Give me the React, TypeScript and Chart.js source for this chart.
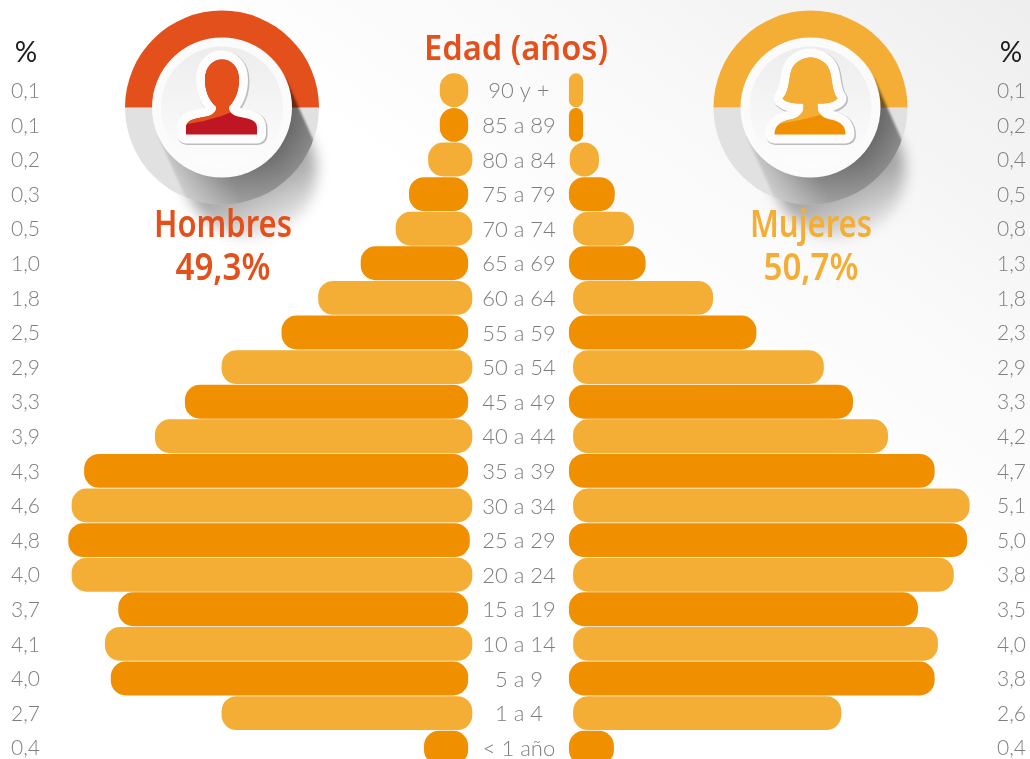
import React, { useEffect, useRef } from "react";
import { Chart, registerables } from "chart.js";

Chart.register(...registerables);

const ageGroups = ["90 y +","85 a 89","80 a 84","75 a 79","70 a 74","65 a 69","60 a 64","55 a 59","50 a 54","45 a 49","40 a 44","35 a 39","30 a 34","25 a 29","20 a 24","15 a 19","10 a 14","5 a 9","1 a 4","< 1 año"];
const menPercent = ["0,1","0,1","0,2","0,3","0,5","1,0","1,8","2,5","2,9","3,3","3,9","4,3","4,6","4,8","4,0","3,7","4,1","4,0","2,7","0,4"];
const womenPercent = ["0,1","0,2","0,4","0,5","0,8","1,3","1,8","2,3","2,9","3,3","4,2","4,7","5,1","5,0","3,8","3,5","4,0","3,8","2,6","0,4"];
// Bar ends as drawn in the picture (the drawn lengths are not proportional to the printed labels).
const menBarOuter = [0.95,0.95,1.09,1.32,1.48,1.9,2.41,2.85,3.57,4.01,4.37,5.22,5.37,5.41,5.37,4.81,4.97,4.9,3.57,1.14];
const menBarInner = [0.61,0.61,0.56,0.61,0.56,0.61,0.56,0.61,0.56,0.61,0.56,0.61,0.56,0.59,0.56,0.61,0.56,0.61,0.56,0.61];
const womenBarOuter = [0.77,0.77,0.96,1.15,1.38,1.52,2.33,2.85,3.66,4.01,4.43,4.99,5.41,5.38,5.22,4.79,5.03,4.99,3.87,1.14];
const womenBarInner = [0.6,0.6,0.61,0.6,0.65,0.6,0.65,0.6,0.65,0.6,0.65,0.6,0.65,0.6,0.65,0.6,0.65,0.6,0.65,0.6];

const LIGHT = "#F4AE35";
const DARK = "#F08F00";
const RED_ORANGE = "#E4501B";
const GREY_TEXT = "#7d7e82";
const rowColors = ageGroups.map((_, i) => (i % 2 === 0 ? LIGHT : DARK));

type Ctx = CanvasRenderingContext2D;

function manPath(c: Ctx) {
  c.beginPath();
  c.moveTo(-36, 27);
  c.lineTo(-36, 20);
  c.bezierCurveTo(-36, 12, -26, 11, -15, 9);
  c.bezierCurveTo(-8, 7, -5, 3, -6, -1);
  c.bezierCurveTo(-14, -8, -17, -18, -17, -28);
  c.bezierCurveTo(-17, -41, -9, -48, 0, -48);
  c.bezierCurveTo(9, -48, 17, -41, 17, -28);
  c.bezierCurveTo(17, -18, 14, -8, 7, -1);
  c.bezierCurveTo(6, 3, 9, 7, 16, 9);
  c.bezierCurveTo(26, 11, 35, 12, 35, 20);
  c.lineTo(35, 27);
  c.closePath();
}

function womanPath(c: Ctx) {
  c.beginPath();
  c.moveTo(-36, 27);
  c.bezierCurveTo(-36, 18, -30, 14, -20, 12);
  c.bezierCurveTo(-12, 10, -7, 6, -7, 0);
  c.lineTo(-7, -4);
  c.bezierCurveTo(-14, -4, -23, -4, -28, -9);
  c.bezierCurveTo(-22, -15, -22, -25, -20, -34);
  c.bezierCurveTo(-18, -45, -8, -50, 0, -50);
  c.bezierCurveTo(8, -50, 18, -45, 20, -34);
  c.bezierCurveTo(22, -25, 22, -15, 27, -9);
  c.bezierCurveTo(22, -4, 14, -4, 7, -4);
  c.lineTo(7, 0);
  c.bezierCurveTo(7, 6, 12, 10, 20, 12);
  c.bezierCurveTo(30, 14, 35, 18, 35, 27);
  c.closePath();
}

function bandPath(c: Ctx, dx: number, dy: number, L: number, r: number) {
  c.beginPath();
  c.moveTo(dy * r, -dx * r);
  c.lineTo(dy * r + dx * L, -dx * r + dy * L);
  c.arc(dx * L, dy * L, r, Math.atan2(-dx, dy), Math.atan2(dx, -dy), false);
  c.lineTo(-dy * r, dx * r);
  c.closePath();
}

function ringShadow(dx: number, dy: number) {
  const off = document.createElement("canvas");
  off.width = 220;
  off.height = 220;
  const o = off.getContext("2d") as Ctx;
  o.translate(110, 110);
  const across = o.createLinearGradient(-dy * 70, dx * 70, dy * 70, -dx * 70);
  across.addColorStop(0, "rgba(0,0,0,0.12)");
  across.addColorStop(0.35, "rgba(0,0,0,0.42)");
  across.addColorStop(0.7, "rgba(0,0,0,0.52)");
  across.addColorStop(1, "rgba(0,0,0,0.55)");
  o.fillStyle = across;
  o.filter = "blur(1px)";
  bandPath(o, dx, dy, 130, 70);
  o.fill();
  o.filter = "none";
  o.globalCompositeOperation = "destination-in";
  const fade = o.createRadialGradient(0, 0, 68, 0, 0, 100);
  fade.addColorStop(0, "rgba(0,0,0,1)");
  fade.addColorStop(1, "rgba(0,0,0,0.68)");
  o.fillStyle = fade;
  o.fillRect(-110, -110, 220, 220);
  return off;
}

function drawBadge(c: Ctx, cx: number, cy: number, top: string, headFill: string, bodyFill: string, path: (c: Ctx) => void, glossEnd: number) {
  const dx = 0.41, dy = 0.912;
  c.save();
  c.translate(cx, cy);

  // soft part of the cast shadow that leaves the ring
  c.save();
  const soft = c.createLinearGradient(0, 0, dx * 150, dy * 150);
  soft.addColorStop(0.55, "rgba(0,0,0,0.34)");
  soft.addColorStop(1, "rgba(0,0,0,0)");
  c.filter = "blur(7px)";
  c.fillStyle = soft;
  bandPath(c, dx, dy, 70, 66);
  c.fill();
  c.restore();

  // grey lower half + coloured upper half
  c.beginPath();
  c.arc(0, 0, 97, 0, Math.PI);
  c.closePath();
  c.fillStyle = "#e1e1e1";
  c.fill();
  c.beginPath();
  c.arc(0, 0, 97, Math.PI, 0);
  c.closePath();
  c.fillStyle = top;
  c.fill();

  // cast shadow on the ring
  c.save();
  c.beginPath();
  c.arc(0, 0, 97, 0, Math.PI * 2);
  c.clip();
  c.drawImage(ringShadow(dx, dy), -110, -110);
  c.restore();

  // disc
  c.beginPath();
  c.arc(0, 0, 70, 0, Math.PI * 2);
  c.fillStyle = "#fbfbfb";
  c.fill();
  const inner = c.createLinearGradient(0, -61, 0, 61);
  inner.addColorStop(0, "#ededed");
  inner.addColorStop(1, "#fdfdfd");
  c.beginPath();
  c.arc(0, 0, 61, 0, Math.PI * 2);
  c.fillStyle = inner;
  c.fill();

  // sticker
  c.lineJoin = "round";
  c.save();
  c.translate(1, 1);
  path(c);
  c.lineWidth = 19;
  c.strokeStyle = "#bdbdbd";
  c.stroke();
  c.restore();
  path(c);
  c.lineWidth = 18;
  c.strokeStyle = "#fdfdfd";
  c.stroke();
  // figure
  path(c);
  c.fillStyle = bodyFill;
  c.fill();
  c.save();
  path(c);
  c.clip();
  c.beginPath();
  c.moveTo(-50, -60);
  c.lineTo(-50, 18);
  c.quadraticCurveTo(-5, 16, glossEnd, -10);
  c.lineTo(60, -60);
  c.closePath();
  c.fillStyle = headFill;
  c.fill();
  c.restore();
  c.restore();
}

const overlay = {
  id: "overlay",
  beforeDatasetsDraw(chart: any) {
    const c: Ctx = chart.ctx;
    drawBadge(c, 222, 107.5, RED_ORANGE, "#E4501B", "#BE1622", manPath, 40);
    drawBadge(c, 810.5, 107.5, LIGHT, LIGHT, DARK, womanPath, 60);

    c.save();
    c.textAlign = "center";
    c.textBaseline = "alphabetic";
    c.font = "600 38px 'Noto Sans', sans-serif";
    c.fillStyle = RED_ORANGE;
    c.fillText("Hombres", 223, 237, 138);
    c.fillText("49,3%", 223, 280, 95);
    c.fillStyle = LIGHT;
    c.fillText("Mujeres", 811, 237, 122);
    c.fillText("50,7%", 811, 280, 95);
    c.font = "600 35px 'Noto Sans', sans-serif";
    c.fillStyle = RED_ORANGE;
    c.fillText("Edad (años)", 516, 60, 184);
    c.restore();
  },
  afterDatasetsDraw(chart: any) {
    const c: Ctx = chart.ctx;
    const y = chart.scales.y;
    const x = chart.scales.x;
    const centre = x.getPixelForValue(0);
    c.save();
    c.textBaseline = "middle";
    c.fillStyle = GREY_TEXT;
    ageGroups.forEach((_, i) => {
      const py = y.getPixelForValue(i) + 1;
      c.font = "300 22px 'Lato', sans-serif";
      c.textAlign = "center";
      c.fillText(y.getLabelForValue(i), centre, py);
      c.font = "300 21px 'Lato', sans-serif";
      c.textAlign = "left";
      c.fillText(menPercent[i], 11, py);
      c.fillText(womenPercent[i], 997, py);
    });
    c.font = "400 28px 'Lato', sans-serif";
    c.fillStyle = "#1d1d1b";
    c.textAlign = "center";
    c.fillText("%", 26, 53);
    c.fillText("%", 1011, 53);
    c.restore();
  },
};

export default function App() {
  const ref = useRef<HTMLCanvasElement | null>(null);
  useEffect(() => {
    if (!ref.current) return;
    const chart = new Chart(ref.current, {
      type: "bar",
      plugins: [overlay],
      data: {
        labels: ageGroups,
        datasets: [
          {
            label: "Hombres",
            data: ageGroups.map((_, i) => [-menBarOuter[i], -menBarInner[i]]),
            backgroundColor: rowColors,
            grouped: false,
            borderRadius: 15,
            borderSkipped: false,
            barPercentage: 1,
            categoryPercentage: 0.98,
          },
          {
            label: "Mujeres",
            data: ageGroups.map((_, i) => [womenBarInner[i], womenBarOuter[i]]),
            backgroundColor: rowColors,
            grouped: false,
            borderRadius: 15,
            borderSkipped: false,
            barPercentage: 1,
            categoryPercentage: 0.98,
          },
        ],
      } as any,
      options: {
        indexAxis: "y",
        animation: false,
        responsive: false,
        devicePixelRatio: 1,
        layout: { padding: { top: 73, left: 0, right: 0, bottom: 0 } },
        plugins: { legend: { display: false }, tooltip: { enabled: false }, title: { display: false } },
        scales: {
          x: { type: "linear", min: -6.23, max: 6.135, display: false },
          y: { type: "category", display: false },
        },
      } as any,
    });
    return () => chart.destroy();
  }, []);
  return (
    <div
      style={{
        position: "absolute",
        left: 0,
        top: 0,
        width: 1030,
        height: 759,
        overflow: "hidden",
        background: "linear-gradient(215deg, #eeeeee 0%, #f8f8f8 22%, #ffffff 42%)",
      }}
    >
      <canvas ref={ref} width={1030} height={765} style={{ display: "block" }} />
    </div>
  );
}
